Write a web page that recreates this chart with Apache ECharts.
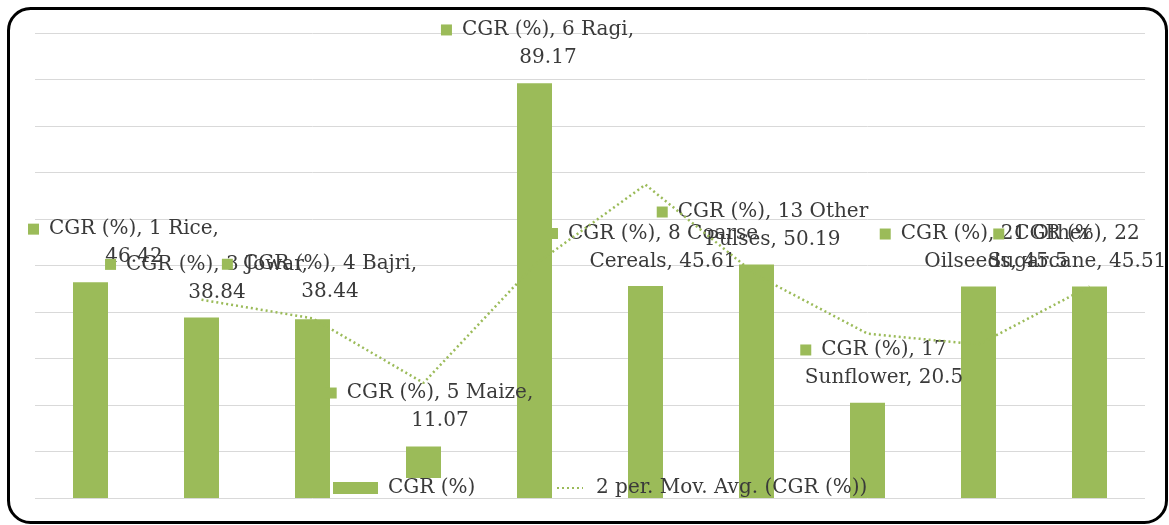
<!DOCTYPE html>
<html><head><meta charset="utf-8">
<script src="https://cdn.jsdelivr.net/npm/echarts@6/dist/echarts.min.js"></script>
<style>html,body{margin:0;padding:0;background:#fff}#c{width:1169px;height:525px}</style>
</head><body><div id="c"></div>
<script>
// ---- data ----
const categories = ['1 Rice','3 Jowar','4 Bajri','5 Maize','6 Ragi','8 Coarse Cereals','13 Other Pulses','17 Sunflower','21 Other Oilseeds','22 Sugarcane'];
const cgrValues = [46.42, 38.84, 38.44, 11.07, 89.17, 45.61, 50.19, 20.5, 45.5, 45.51];
const firstLineWords = [2, 2, 2, 2, 2, 2, 2, 1, 2, 1];
const barSeriesName = 'CGR (%)';
const trendSeriesName = '2 per. Mov. Avg. (CGR (%))';
const yMin = 0, yMax = 100, yStep = 10;

// ---- layout (label shifts, px) ----
const labelShift = [[43.5,-6],[15.5,-6],[17.5,-8],[16.5,-6.5],[13.5,-6.4],[17.5,-5.4],[16.5,-5.6],[16.5,-5.7],[17.5,-5.4],[-12.5,-5.4]];

// Excel 2-period moving average trendline of the bar values
const movAvg = cgrValues.map((v, i) => i === 0 ? null : (v + cgrValues[i - 1]) / 2);

const GREEN = '#9BBB59';
const FONT = 'DejaVu Serif';
const FS = 20;
const TXT = '#3a3a3a';

function labelText(i) {
  const words = categories[i].split(' ');
  const n = firstLineWords[i];
  const head = words.slice(0, n).join(' ');
  const rest = words.slice(n).join(' ');
  const l1 = barSeriesName + ', ' + head + (rest ? '' : ',');
  const l2 = (rest ? rest + ', ' : '') + cgrValues[i];
  return '{sq|}{g|}' + l1 + '{g|}{sp|}\n' + l2;
}

const barData = cgrValues.map((v, i) => ({
  value: v,
  label: { offset: labelShift[i] }
}));

const chart = echarts.init(document.getElementById('c'), null, { renderer: 'canvas' });
chart.setOption({
  animation: false,
  backgroundColor: '#fff',
  textStyle: { fontFamily: FONT },
  grid: { left: 35, right: 24, top: 33, bottom: 27, containLabel: false },
  xAxis: {
    type: 'category', data: categories,
    axisLine: { show: false }, axisTick: { show: false }, axisLabel: { show: false },
    splitLine: { show: false }
  },
  yAxis: {
    type: 'value', min: yMin, max: yMax, interval: yStep,
    axisLine: { show: false }, axisTick: { show: false }, axisLabel: { show: false },
    splitLine: { show: true, lineStyle: { color: '#d9d9d9', width: 1 } }
  },
  legend: [
    {
      data: [{ name: barSeriesName, icon: 'rect' }], left: 333, top: 478, padding: 0, itemGap: 0,
      itemWidth: 45, itemHeight: 12, backgroundColor: '#fff',
      textStyle: { fontFamily: FONT, fontSize: FS, color: TXT, lineHeight: 19, padding: [0, 0, 0, 5] },
      selectedMode: false
    },
    {
      data: [{ name: trendSeriesName, itemStyle: { color: 'rgba(0,0,0,0)', borderWidth: 0, opacity: 0 } }],
      left: 556, top: 478, padding: 0,
      itemWidth: 26, itemHeight: 12,
      textStyle: { fontFamily: FONT, fontSize: FS, color: TXT, lineHeight: 19, padding: [0, 0, 0, 8] },
      selectedMode: false
    }
  ],
  series: [
    {
      name: barSeriesName, type: 'bar', data: barData, barWidth: 35,
      itemStyle: { color: GREEN },
      z: 2,
      label: {
        show: true, position: 'top', distance: 5, align: 'center',
        fontFamily: FONT, fontSize: FS, color: TXT, lineHeight: 28,
        formatter: p => labelText(p.dataIndex),
        rich: {
          sq: { width: 11, height: 11, backgroundColor: GREEN, lineHeight: 28 },
          g: { width: 10, lineHeight: 28 },
          sp: { width: 11, lineHeight: 28 }
        }
      }
    },
    {
      name: trendSeriesName, type: 'line', data: movAvg,
      symbol: 'none', showSymbol: false, smooth: false, connectNulls: false,
      lineStyle: { color: GREEN, width: 2.5, type: [2, 3], cap: 'butt' },
      itemStyle: { color: GREEN },
      z: 3
    }
  ],
  graphic: [{
    type: 'rect', left: 6, top: 6, z: 100, silent: true,
    shape: { width: 1158, height: 514, r: 22 },
    style: { fill: 'none', stroke: '#000', lineWidth: 3 }
  }]
});
</script></body></html>
